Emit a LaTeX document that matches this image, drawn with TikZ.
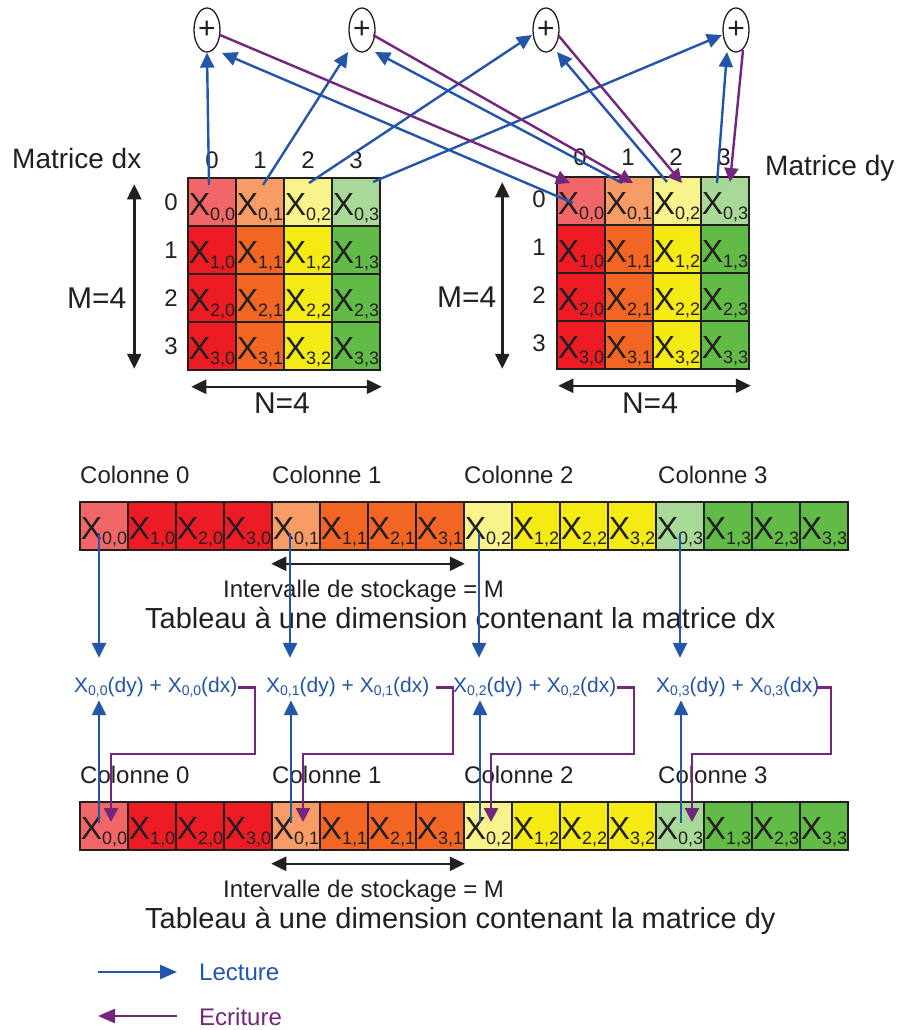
\documentclass[tikz,border=0pt]{standalone}
\usepackage{fontspec}
\setmainfont{Liberation Sans}
\usetikzlibrary{arrows.meta,shapes.geometric,calc}
\definecolor{k0}{HTML}{ED1C24}
\definecolor{k1}{HTML}{F26522}
\definecolor{k2}{HTML}{F4EA14}
\definecolor{k3}{HTML}{62BB46}
\definecolor{l0}{HTML}{F16767}
\definecolor{l1}{HTML}{F79C66}
\definecolor{l2}{HTML}{F8F38A}
\definecolor{l3}{HTML}{A8D998}
\definecolor{rdblue}{HTML}{2356A8}
\definecolor{wrpurple}{HTML}{74267F}
\definecolor{ink}{HTML}{231F20}
\newcommand{\fs}[1]{\fontsize{#1pt}{#1pt}\selectfont}
\newcommand{\cellX}[1]{X\raisebox{-5pt}{\fs{18}#1}}
\newcommand{\sumX}[2]{X\raisebox{-3pt}{\fs{14}#1}(#2)}
\begin{document}
\begin{tikzpicture}[x=1pt,y=-1pt,
  cell/.style={draw=ink,line width=1.5pt,minimum width=48pt,minimum height=48pt,inner sep=0pt,text height=37pt,text depth=11pt,font=\fs{32},text=ink},
  plusnode/.style={ellipse,draw=ink,line width=1.3pt,minimum width=26pt,minimum height=44pt,inner sep=0pt,font=\fs{30},text=ink},
  txt/.style={inner sep=0pt,text=ink},
  read/.style={draw=rdblue,line width=2.4pt,-{Triangle[length=15pt,width=14pt]}},
  write/.style={draw=wrpurple,line width=2.4pt,-{Triangle[length=14pt,width=14pt]}},
  dim/.style={draw=ink,line width=2.5pt,{Triangle[length=15pt,width=14pt]}-{Triangle[length=15pt,width=14pt]}},
  sumlbl/.style={inner sep=0pt,text=rdblue,font=\fs{21},text height=14pt,text depth=5pt,anchor=base west},
]
\fill[white] (0,0) rectangle (900,1030);
\useasboundingbox (0,0) rectangle (900,1030);

% ---------- 2D matrices ----------
\foreach \c in {0,...,3}{
  \node[cell,fill=l\c] (dx-0-\c) at ({212+48*\c},202) {\makebox[0pt]{\cellX{0,\c}}};
  \node[cell,fill=l\c] (dy-0-\c) at ({581+48*\c},201) {\makebox[0pt]{\cellX{0,\c}}};
  \foreach \r in {1,2,3}{
    \node[cell,fill=k\c] (dx-\r-\c) at ({212+48*\c},{202+48*\r}) {\makebox[0pt]{\cellX{\r,\c}}};
    \node[cell,fill=k\c] (dy-\r-\c) at ({581+48*\c},{201+48*\r}) {\makebox[0pt]{\cellX{\r,\c}}};
  }
}
% indices
\foreach \i in {0,...,3}{
  \node[txt,font=\fs{24},anchor=base] (cdx\i) at ({212+48*\i},168) {\i};
  \node[txt,font=\fs{24},anchor=base] (cdy\i) at ({580+48*\i},165) {\i};
  \node[txt,font=\fs{24},anchor=base] (rdx\i) at (171,{210+48*\i}) {\i};
  \node[txt,font=\fs{24},anchor=base] (rdy\i) at (539,{207+48*\i}) {\i};
}
\node[txt,font=\fs{28},anchor=base west] (tdx) at (12,168) {Matrice dx};
\node[txt,font=\fs{28},anchor=base west] (tdy) at (765,175) {Matrice dy};
\node[txt,font=\fs{30},anchor=base west] (mdx) at (67,308) {M=4};
\node[txt,font=\fs{30},anchor=base west] (mdy) at (437,307) {M=4};
\node[txt,font=\fs{30},anchor=base] (ndx) at (282,413) {N=4};
\node[txt,font=\fs{30},anchor=base] (ndy) at (650,413) {N=4};
\draw[dim] ([shift={(-53,7)}]dx-0-0.north west) -- ([shift={(-53,-2)}]dx-3-0.south west);
\draw[dim] ([shift={(-54,6)}]dy-0-0.north west) -- ([shift={(-54,-1)}]dy-3-0.south west);
\draw[dim] ([shift={(4,16)}]dx-3-0.south west) -- ([shift={(1,16)}]dx-3-3.south east);
\draw[dim] ([shift={(2,16)}]dy-3-0.south west) -- ([shift={(1,16)}]dy-3-3.south east);

% ---------- adders ----------
\node[plusnode] (p1) at (207,30) {+};
\node[plusnode] (p2) at (362,30) {+};
\node[plusnode] (p3) at (546,30) {+};
\node[plusnode] (p4) at (736,30) {+};

\draw[read] ([shift={(-3,-17)}]dx-0-0.center) -- (p1.south);
\draw[read] ([shift={(3,-17)}]dx-0-1.center) -- ([shift={(-14,22)}]p2.center);
\draw[read] ([shift={(1,-19)}]dx-0-2.center) -- ([shift={(-14,5)}]p3.center);
\draw[read] ([shift={(17,-20)}]dx-0-3.center) -- ([shift={(-14,5)}]p4.center);
\draw[read] ([shift={(-8,2)}]dy-0-0.center) -- ([shift={(15,23)}]p1.center);
\draw[read] ([shift={(-7,-18)}]dy-0-1.center) -- ([shift={(13,22)}]p2.center);
\draw[read] ([shift={(-10,-19)}]dy-0-2.center) -- ([shift={(11,22)}]p3.center);
\draw[read] ([shift={(-8,-18)}]dy-0-3.center) -- ([shift={(-9,22)}]p4.center);

\draw[write] ([shift={(13,5)}]p1.center) -- ([shift={(-11,-18)}]dy-0-0.center);
\draw[write] ([shift={(11,5)}]p2.center) -- ([shift={(4,-18)}]dy-0-1.center);
\draw[write] ([shift={(12,5)}]p3.center) -- ([shift={(5,-18)}]dy-0-2.center);
\draw[write] ([shift={(7,20)}]p4.center) -- ([shift={(5,-19)}]dy-0-3.center);

% ---------- 1D arrays ----------
\foreach \c in {0,...,3}{
  \pgfmathtruncatemacro\k{4*\c}
  \node[cell,fill=l\c] (A\k) at ({104+48*\k},526) {\makebox[0pt]{\cellX{0,\c}}};
  \node[cell,fill=l\c] (B\k) at ({104+48*\k},826) {\makebox[0pt]{\cellX{0,\c}}};
  \foreach \r in {1,2,3}{
    \pgfmathtruncatemacro\k{4*\c+\r}
    \node[cell,fill=k\c] (A\k) at ({104+48*\k},526) {\makebox[0pt]{\cellX{\r,\c}}};
    \node[cell,fill=k\c] (B\k) at ({104+48*\k},826) {\makebox[0pt]{\cellX{\r,\c}}};
  }
}
\foreach \c/\x in {0/80,1/272,2/464,3/658}{
  \node[txt,font=\fs{24},anchor=base west] (colA\c) at (\x,483) {Colonne \c};
  \node[txt,font=\fs{24},anchor=base west] (colB\c) at (\x,783) {Colonne \c};
}
\draw[dim] ([shift={(0,13)}]A4.south west) -- ([shift={(0,13)}]A7.south east);
\draw[dim] ([shift={(0,13)}]B4.south west) -- ([shift={(0,13)}]B7.south east);
\node[txt,font=\fs{24},anchor=base west] (intA) at (223,597) {Intervalle de stockage = M};
\node[txt,font=\fs{24},anchor=base west] (intB) at (223,897) {Intervalle de stockage = M};
\node[txt,font=\fs{29},anchor=base west] (tabA) at (145,628) {Tableau à une dimension contenant la matrice dx};
\node[txt,font=\fs{29},anchor=base west] (tabB) at (145,928) {Tableau à une dimension contenant la matrice dy};

% sums
\node[sumlbl] (s0) at (74,692) {\sumX{0,0}{dy} + \sumX{0,0}{dx}};
\node[sumlbl] (s1) at (266,692) {\sumX{0,1}{dy} + \sumX{0,1}{dx}};
\node[sumlbl] (s2) at (453,692) {\sumX{0,2}{dy} + \sumX{0,2}{dx}};
\node[sumlbl] (s3) at (656,692) {\sumX{0,3}{dy} + \sumX{0,3}{dx}};

\foreach \j/\k/\ax/\bx/\wx/\cx/\sx in {0/0/-5/-5/7/255/0, 1/4/-6/-5/7/453/6, 2/8/-9/-8/3/634/0, 3/12/0/1/12/831/-3}{
  \coordinate (ta\j) at ([shift={(\ax,7)}]A\k.center);
  \coordinate (tb\j) at ([shift={(\bx,-3)}]B\k.center);
  \coordinate (wb\j) at ([shift={(\wx,-4)}]B\k.center);
  \coordinate (stop\j) at ([shift={(0,-20)}]s\j.north);
  \coordinate (sbot\j) at ([shift={(0,3)}]s\j.south);
  \coordinate (ws\j) at ([shift={(\sx,0)}]s\j.east);
  \coordinate (wc\j) at (\cx,754);
  \draw[read] (ta\j) -- (ta\j |- stop\j);
  \draw[read] (tb\j) -- (tb\j |- sbot\j);
  \draw[write] (ws\j) -| (wc\j) -| (wb\j);
}

% legend
\coordinate (la1) at (98,972);
\coordinate (lb1) at (177,972);
\coordinate (la2) at (98,1016);
\coordinate (lb2) at (177,1016);
\draw[read,-{Triangle[length=17pt,width=14pt]}] (la1) -- (lb1);
\draw[write,-{Triangle[length=17pt,width=14pt]}] (lb2) -- (la2);
\node[inner sep=0pt,text=rdblue,font=\fs{24},anchor=base west] (lect) at (199,980) {Lecture};
\node[inner sep=0pt,text=wrpurple,font=\fs{24},anchor=base west] (ecri) at (199,1025) {Ecriture};
\end{tikzpicture}
\end{document}
